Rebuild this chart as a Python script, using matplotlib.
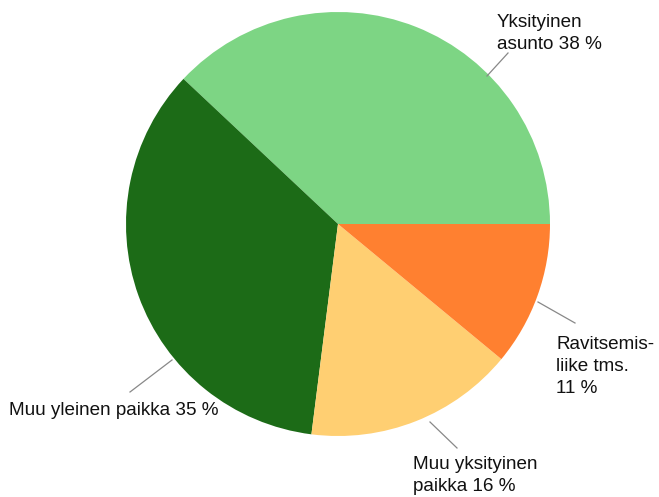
import matplotlib
matplotlib.use("Agg")
import matplotlib.pyplot as plt

labels = ["Yksityinen\nasunto 38 %", "Muu yleinen paikka 35 %", "Muu yksityinen\npaikka 16 %", "Ravitsemis-\nliike tms.\n11 %"]
values = [38, 35, 16, 11]
colors = ["#7DD584", "#1C6B17", "#FFCF72", "#FF8030"]

W, H = 659, 497
fig = plt.figure(figsize=(W / 100, H / 100), dpi=100)
ax = fig.add_axes([0, 0, 1, 1])

cx, cy, r = 338, H - 224, 212
ax.pie(values, colors=colors, startangle=0, counterclock=True,
       center=(cx, cy), radius=r, frame=True,
       wedgeprops=dict(linewidth=0, antialiased=True))
ax.set_xlim(0, W)
ax.set_ylim(0, H)
ax.set_aspect("equal")
ax.axis("off")

# leader lines (pixel coords from top-left)
leaders = [((487, 76), (508, 53)),
           ((172, 360), (130, 392)),
           ((430, 422), (457, 448)),
           ((538, 302), (575, 323))]
for (x0, y0), (x1, y1) in leaders:
    ax.plot([x0, x1], [H - y0, H - y1], color="#888888", lw=0.9)

# label anchor (left, top) in pixel coords
anchors = [(497, 14), (9, 402), (413, 456), (556, 336)]
for lab, (x, y) in zip(labels, anchors):
    ax.text(x, H - y, lab, ha="left", va="top", fontsize=13.6,
            family="Liberation Sans", color="#111111", linespacing=1.38)

fig.savefig("out.png", dpi=100)
